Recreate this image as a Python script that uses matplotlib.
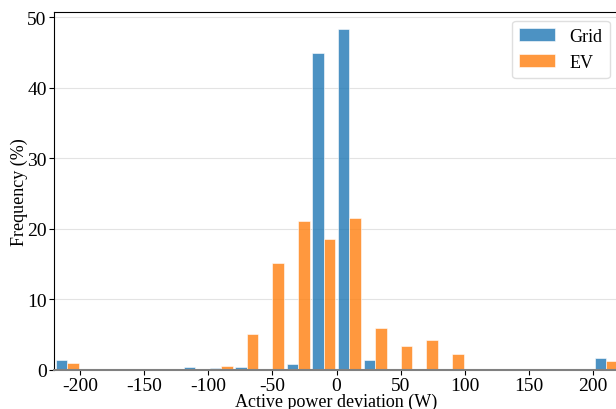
import matplotlib
matplotlib.use("Agg")
import matplotlib.pyplot as plt
import numpy as np

plt.rcParams["font.family"] = "serif"
plt.rcParams["font.serif"] = ["Liberation Serif", "DejaVu Serif"]
plt.rcParams["axes.unicode_minus"] = False

# histogram bins (W) and frequency (%) per bin
bin_edges = np.arange(-220, 240, 20)
bin_centers = np.arange(-210, 220, 20)
grid_freq = [1.37, 0.1, 0, 0, 0.1, 0.38, 0.24, 0.38, 0, 0.8, 44.95,
             48.35, 1.37, 0, 0.1, 0, 0.1, 0, 0, 0, 0, 1.66]
ev_freq = [1.0, 0, 0, 0, 0, 0.1, 0.52, 5.06, 15.07, 21.1, 18.5,
           21.5, 5.9, 3.4, 4.2, 2.27, 0.1, 0.1, 0, 0, 0.1, 1.28]

fig = plt.figure(figsize=(6.16, 4.10), dpi=100)
ax = fig.add_axes([0.0881, 0.0959, 0.9167, 0.873])

ax.hist([bin_centers, bin_centers], bins=bin_edges, weights=[grid_freq, ev_freq],
        rwidth=0.9, color=["#1f77b4", "#ff7f0e"], alpha=0.8,
        edgecolor="white", linewidth=0.5, label=["Grid", "EV"], zorder=2)

ax.set_xlim(-220, 220)
ax.set_ylim(0, 50.8)
ax.set_yticks([0, 10, 20, 30, 40, 50])
ax.set_xticks([-200, -150, -100, -50, 0, 50, 100, 150, 200])
ax.grid(True, axis="y", color="#e3e3e3", linewidth=0.8, zorder=0)
ax.set_axisbelow(True)

ax.spines["bottom"].set_color("#808080")
ax.spines["bottom"].set_linewidth(1.5)
ax.tick_params(labelsize=14, length=3.5, pad=2)

ax.set_xlabel("Active power deviation (W)", fontsize=13, labelpad=-1)
ax.set_ylabel("Frequency (%)", fontsize=13, labelpad=-1)

ax.legend(loc="upper right", fontsize=13, frameon=True, edgecolor="#d8d8d8",
          handlelength=2.0, borderaxespad=0.5)

fig.savefig("out.png", dpi=100)
